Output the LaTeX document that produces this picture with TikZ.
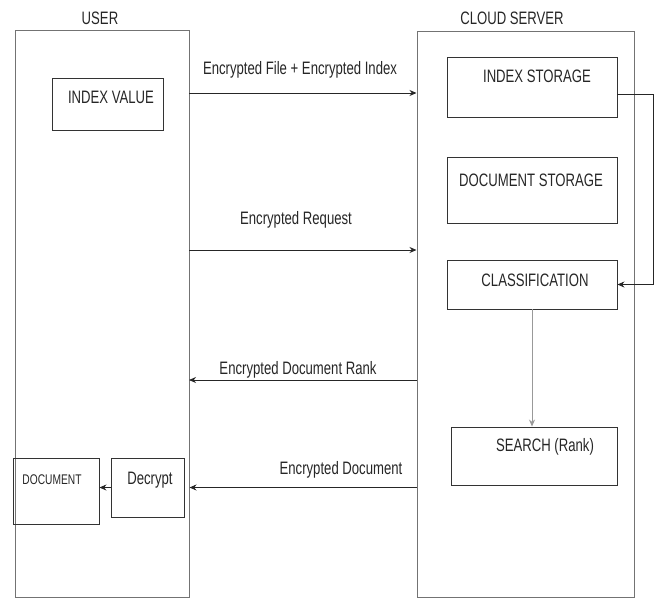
\documentclass[tikz,border=0pt]{standalone}
\usepackage{fontspec}
\setmainfont{Liberation Sans}[FakeStretch=0.73]
\usetikzlibrary{arrows.meta}
\begin{document}
\begin{tikzpicture}[x=1pt,y=-1pt,
  box/.style={draw=black!80, line width=0.9pt, inner sep=0pt},
  outer/.style={draw=black!55, line width=1pt, inner sep=0pt},
  txt/.style={font=\fontsize{18}{20}\selectfont, inner sep=0pt, text=black!85},
  small/.style={font=\fontsize{14}{16}\selectfont, inner sep=0pt, text=black!85},
  arr/.style={-{Stealth[length=7pt,width=6pt]}, line width=0.9pt, draw=black!85}]
\useasboundingbox (0,0) rectangle (655,598);
% outer boxes
\node[outer, minimum width=174pt, minimum height=567pt] (user) at (102,313.5) {};
\node[outer, minimum width=217pt, minimum height=566pt] (cloud) at (525.5,314) {};
\node[txt] (userlbl) at (100,18) {USER};
\node[txt] (cloudlbl) at (512,18) {CLOUD SERVER};
% inner boxes
\node[box, minimum width=111pt, minimum height=52pt] (iv) at (107.5,104) {};
\node[txt] (ivt) at (111,97) {INDEX VALUE};
\node[box, minimum width=170pt, minimum height=60pt] (idx) at (532,87) {};
\node[txt] (idxt) at (537,76) {INDEX STORAGE};
\node[box, minimum width=170pt, minimum height=66pt] (doc) at (532,190) {};
\node[txt] (doct) at (531,180) {DOCUMENT STORAGE};
\node[box, minimum width=170pt, minimum height=49pt] (cls) at (532,284.5) {};
\node[txt] (clst) at (535,280) {CLASSIFICATION};
\node[box, minimum width=166pt, minimum height=58pt] (srch) at (534,456) {};
\node[txt] (srcht) at (545,447) {SEARCH (Rank)};
\node[box, minimum width=86pt, minimum height=66pt] (document) at (56,491) {};
\node[small] (documentt) at (52,480) {DOCUMENT};
\node[box, minimum width=73pt, minimum height=59pt] (decrypt) at (147.5,487.5) {};
\node[txt] (decryptt) at (150,480) {Decrypt};
% connector anchors
\coordinate (a1) at (189,93);
\coordinate (a2) at (189,250);
\coordinate (a3) at (189,380);
% arrows between user and cloud
\draw[arr] (a1) -- (a1 -| cloud.west);
\draw[arr] (a2) -- (a2 -| cloud.west);
\draw[arr] (a3 -| cloud.west) -- (a3);
\draw[arr] (decrypt.west -| cloud.west) -- (decrypt.west -| user.east);
\node[txt] (l1) at (300,70) {Encrypted File + Encrypted Index};
\node[txt] (l2) at (296,220) {Encrypted Request};
\node[txt] (l3) at (298,370) {Encrypted Document Rank};
\node[txt] (l4) at (341,470) {Encrypted Document};
% inside cloud
\draw[arr] ([yshift=-7pt]idx.east) -- ++(36,0) |- (cls.east);
\draw[arr, draw=black!40] (cls.south) -- (cls.south |- srch.north);
% decrypt to document
\draw[arr] (decrypt.west) -- (decrypt.west -| document.east);
\end{tikzpicture}
\end{document}
